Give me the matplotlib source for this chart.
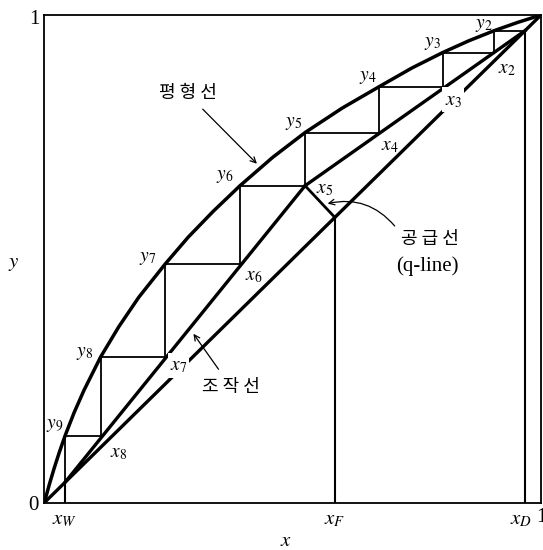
################################################################################
##### McCabe-Thiele diagram (평형선 / 조작선 / 공급선) #####
import matplotlib
matplotlib.use('Agg')
import matplotlib.pyplot as plt
import numpy as np

plt.rcParams['mathtext.fontset'] = 'stix'
plt.rcParams['font.family'] = ['Noto Sans CJK KR', 'DejaVu Sans']

################################################################################
##### data #####
#equilibrium curve
eq_x = [0.0, 0.01, 0.02, 0.03, 0.0417, 0.06, 0.08, 0.1135, 0.15, 0.19, 0.243,
        0.29, 0.34, 0.394, 0.46, 0.525, 0.60, 0.674, 0.74, 0.802, 0.855, 0.906,
        0.953, 1.0]
eq_y = [0.0, 0.037, 0.0711, 0.1027, 0.137, 0.1847, 0.2308, 0.299, 0.3609, 0.421,
        0.489, 0.5448, 0.5974, 0.650, 0.7083, 0.759, 0.8093, 0.853, 0.8913, 0.923,
        0.9473, 0.968, 0.9848, 1.0]

#compositions
x_W = 0.0417
x_F = 0.585
x_D = 0.968
#intersection of the operating lines (on the q-line)
x_int = 0.525
y_int = 0.650

#stage points on the equilibrium curve (top to bottom)
stage_x = [0.906, 0.802, 0.674, 0.525, 0.394, 0.243, 0.1135, 0.0417]
stage_y = [0.968, 0.923, 0.853, 0.759, 0.650, 0.489, 0.299, 0.137]

y_labels = ['$y_2$', '$y_3$', '$y_4$', '$y_5$', '$y_6$', '$y_7$', '$y_8$', '$y_9$']
x_labels = ['$x_2$', '$x_3$', '$x_4$', '$x_5$', '$x_6$', '$x_7$', '$x_8$']

################################################################################
##### figure #####
fig = plt.figure(figsize=(5.43, 5.5), dpi=100)
ax = fig.add_axes([0.0816, 0.086, 0.9147, 0.8867])
ax.set_xlim(0, 1)
ax.set_ylim(0, 1)
ax.set_xticks([])
ax.set_yticks([])
for sp in ax.spines.values():
    sp.set_linewidth(1.3)

#thick lines: equilibrium curve, diagonal, operating lines, q-line
ax.plot(eq_x, eq_y, color='black', lw=2.5, solid_joinstyle='round')
ax.plot([0, 1], [0, 1], color='black', lw=2.4)
ax.plot([x_D, x_int], [x_D, y_int], color='black', lw=2.4)
ax.plot([x_int, x_W], [y_int, x_W], color='black', lw=2.4)
ax.plot([x_F, x_int], [x_F, y_int], color='black', lw=2.0)

#vertical composition markers
for xv in [x_W, x_F, x_D]:
    ax.plot([xv, xv], [0, xv], color='black', lw=1.5)

#staircase
sx = [x_D]
sy = [x_D]
for i in range(len(stage_x)):
    sx.append(stage_x[i])
    sy.append(sy[-1])
    sx.append(stage_x[i])
    sy.append(stage_y[i + 1] if i + 1 < len(stage_y) else x_W)
sy[1] = stage_y[0]
ax.plot(sx, sy, color='black', lw=1.3)

################################################################################
##### stage labels #####
y_pos = [(0.884, 0.983), (0.781, 0.945), (0.652, 0.877), (0.501, 0.781),
         (0.364, 0.672), (0.209, 0.504), (0.082, 0.310), (0.0215, 0.163)]
x_pos = [(0.931, 0.891), (0.823, 0.827), (0.696, 0.733), (0.564, 0.645),
         (0.421, 0.467), (0.270, 0.282), (0.149, 0.1046)]
for lab, (px, py) in zip(y_labels, y_pos):
    ax.text(px, py, lab, fontsize=14, ha='center', va='center')
for lab, (px, py) in zip(x_labels, x_pos):
    if lab in ('$x_3$', '$x_7$'):
        ax.text(px, py, lab, fontsize=14, ha='center', va='center', zorder=5,
                bbox=dict(facecolor='white', edgecolor='none', pad=1.5))
    else:
        ax.text(px, py, lab, fontsize=14, ha='center', va='center')

################################################################################
##### annotations #####
ax.text(0.290, 0.840, '평 형 선', fontsize=13, ha='center', va='center')
ax.annotate('', xy=(0.432, 0.691), xytext=(0.315, 0.811),
            arrowprops=dict(arrowstyle='->', lw=0.9, color='black'))

ax.text(0.777, 0.541, '공 급 선', fontsize=13, ha='center', va='center')
ax.text(0.772, 0.485, '(q-line)', fontsize=15, ha='center', va='center', family='Liberation Serif')
ax.annotate('', xy=(0.565, 0.612), xytext=(0.709, 0.563),
            arrowprops=dict(arrowstyle='->', lw=0.9, color='black',
                            connectionstyle='arc3,rad=0.32'))

ax.text(0.376, 0.238, '조 작 선', fontsize=13, ha='center', va='center')
ax.annotate('', xy=(0.297, 0.351), xytext=(0.354, 0.269),
            arrowprops=dict(arrowstyle='->', lw=0.9, color='black'))

################################################################################
##### axis texts #####
ax.text(-0.010, 0.990, '1', fontsize=15, ha='right', va='center', family='Liberation Serif')
ax.text(-0.012, -0.005, '0', fontsize=15, ha='right', va='center', family='Liberation Serif')
ax.text(0.990, -0.031, '1', fontsize=15, ha='left', va='center', family='Liberation Serif')
ax.text(x_W, -0.031, '$x_W$', fontsize=15, ha='center', va='center')
ax.text(x_F, -0.031, '$x_F$', fontsize=15, ha='center', va='center')
ax.text(0.960, -0.031, '$x_D$', fontsize=15, ha='center', va='center')
ax.text(0.486, -0.077, '$x$', fontsize=15, ha='center', va='center')
ax.text(-0.061, 0.493, '$y$', fontsize=15, ha='center', va='center')

fig.savefig('out.png', dpi=100)
